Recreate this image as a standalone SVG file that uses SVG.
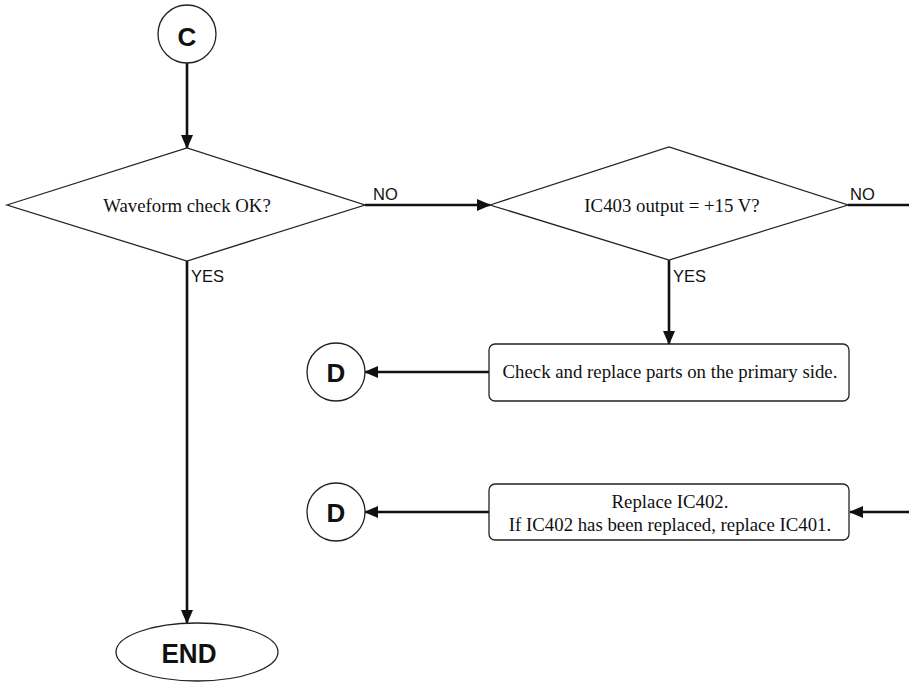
<svg xmlns="http://www.w3.org/2000/svg" width="909" height="683" viewBox="0 0 909 683">
<style>
.shape{fill:#fff;stroke:#222;stroke-width:1.3}
.conn{fill:none;stroke:#111;stroke-width:2.6}
.serif{font-family:"Liberation Serif","Times New Roman",serif;font-size:18.8px;fill:#111;text-anchor:middle}
.lbl{font-family:"Liberation Sans",Arial,sans-serif;font-size:16.5px;fill:#111}
.big{font-family:"Liberation Sans",Arial,sans-serif;font-weight:bold;fill:#111;text-anchor:middle}
</style>
<defs>
<marker id="ah" markerWidth="14" markerHeight="12" refX="13" refY="6" orient="auto" markerUnits="userSpaceOnUse">
<path d="M0,0 L14,6 L0,12 Z" fill="#111"/>
</marker>
</defs>
<rect width="909" height="683" fill="#fff"/>
<g id="connectors">
<line class="conn" x1="187" y1="63" x2="187" y2="148" marker-end="url(#ah)"/>
<line class="conn" x1="365" y1="205" x2="490" y2="205" marker-end="url(#ah)"/>
<line class="conn" x1="848" y1="205" x2="909" y2="205"/>
<line class="conn" x1="187" y1="261" x2="187" y2="623" marker-end="url(#ah)"/>
<line class="conn" x1="669" y1="260" x2="669" y2="344" marker-end="url(#ah)"/>
<line class="conn" x1="489" y1="372" x2="365" y2="372" marker-end="url(#ah)"/>
<line class="conn" x1="489" y1="512" x2="365" y2="512" marker-end="url(#ah)"/>
<line class="conn" x1="909" y1="512" x2="850" y2="512" marker-end="url(#ah)"/>
<text class="lbl" x="373" y="200">NO</text>
<text class="lbl" x="850" y="200">NO</text>
<text class="lbl" x="191" y="282">YES</text>
<text class="lbl" x="673" y="282">YES</text>
</g>
<g id="startC">
<circle class="shape" cx="187" cy="34" r="29"/>
<text class="big" x="187" y="46" font-size="26">C</text>
</g>
<g id="decision1">
<polygon class="shape" points="7,205 187,148 365,205 187,261"/>
<text class="serif" x="187" y="212">Waveform check OK?</text>
</g>
<g id="decision2">
<polygon class="shape" points="490,205 669,147 848,205 669,260"/>
<text class="serif" x="672" y="212">IC403 output = +15 V?</text>
</g>
<g id="box1">
<rect class="shape" x="489" y="344" width="360" height="57" rx="6"/>
<text class="serif" x="670" y="378">Check and replace parts on the primary side.</text>
</g>
<g id="box2">
<rect class="shape" x="489" y="484" width="360" height="56" rx="6"/>
<text class="serif" x="670" y="508">Replace IC402.</text>
<text class="serif" x="670" y="531">If IC402 has been replaced, replace IC401.</text>
</g>
<g id="connD1">
<circle class="shape" cx="336" cy="372" r="29"/>
<text class="big" x="336" y="382" font-size="26">D</text>
</g>
<g id="connD2">
<circle class="shape" cx="336" cy="512" r="29"/>
<text class="big" x="336" y="522" font-size="26">D</text>
</g>
<g id="end">
<ellipse class="shape" cx="197" cy="652" rx="81" ry="29"/>
<text class="big" x="189" y="663" font-size="28" textLength="55" lengthAdjust="spacingAndGlyphs">END</text>
</g>
</svg>
